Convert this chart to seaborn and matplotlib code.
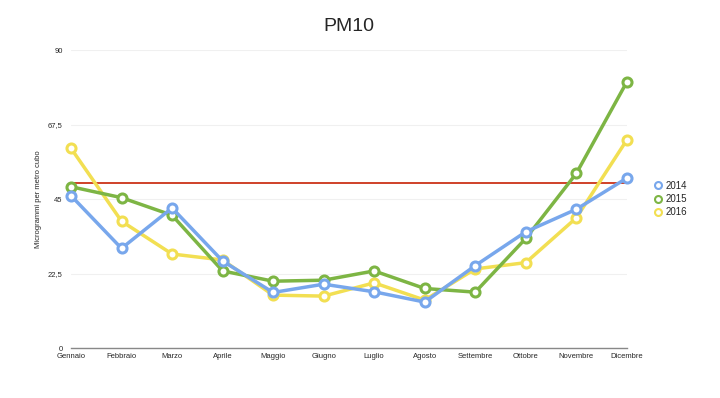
import matplotlib
matplotlib.use("Agg")
import matplotlib.pyplot as plt
from matplotlib.lines import Line2D
import seaborn as sns
import pandas as pd

months = ["Gennaio", "Febbraio", "Marzo", "Aprile", "Maggio", "Giugno",
          "Luglio", "Agosto", "Settembre", "Ottobre", "Novembre", "Dicembre"]
pm10_2014 = [46.1, 30.2, 42.4, 26.4, 16.9, 19.4, 17.1, 14.0, 25.0, 35.2, 42.0, 51.4]
pm10_2015 = [48.8, 45.5, 40.2, 23.4, 20.3, 20.6, 23.4, 18.1, 17.0, 33.2, 52.8, 80.4]
pm10_2016 = [60.4, 38.4, 28.5, 26.7, 16.1, 15.8, 19.8, 14.6, 24.0, 25.9, 39.4, 62.9]
years = ["2014", "2015", "2016"]
limit = 50
yticks = [0, 22.5, 45, 67.5, 90]
ytick_labels = ["0", "22,5", "45", "67,5", "90"]

colors = {"2014": "#78a7ec", "2015": "#7db544", "2016": "#f2df52"}

df = pd.DataFrame({
    "mese": months * 3,
    "valore": pm10_2014 + pm10_2015 + pm10_2016,
    "anno": [y for y in years for _ in months],
})

sns.set_style("white")
plt.rcParams["font.family"] = ["Liberation Sans", "DejaVu Sans"]

fig = plt.figure(figsize=(7.2, 3.98), dpi=100)
ax = fig.add_axes([0.0986, 0.1244, 0.772, 0.7496])

# draw 2016 first so 2014 stays on top, like the reference
for i, y in enumerate(["2016", "2015", "2014"]):
    sns.lineplot(data=df[df["anno"] == y], x="mese", y="valore",
                 color=colors[y], sort=False, ax=ax, linewidth=2.5,
                 linestyle="-", marker="o", markersize=6.5,
                 markerfacecolor="white", markeredgecolor=colors[y],
                 markeredgewidth=2.2, zorder=3 + i, clip_on=False)

ax.axhline(limit, color="#cc3318", lw=1.3, zorder=2)

ax.set_xlim(0, 11)
ax.set_ylim(0, 90)
ax.set_yticks(yticks)
ax.set_yticklabels(ytick_labels, fontsize=5.5)
ax.tick_params(axis="x", labelsize=5.5, length=0, pad=3)
ax.tick_params(axis="y", length=0, pad=6)
ax.yaxis.grid(True, color="#f0f0f0", lw=0.8)
for sp in ["top", "right", "left"]:
    ax.spines[sp].set_visible(False)
ax.spines["bottom"].set_color("#888888")
ax.spines["bottom"].set_linewidth(1)
ax.set_xlabel("")
ax.set_ylabel("Microgrammi per metro cubo", fontsize=5.5, labelpad=4)

ax.set_title("PM10", fontsize=14, pad=14)

handles = [Line2D([], [], ls="none", marker="o", markersize=5,
                  markerfacecolor="white", markeredgecolor=colors[y],
                  markeredgewidth=1.5, label=y) for y in years]
fig.legend(handles=handles, loc="center left", bbox_to_anchor=(0.895, 0.50),
           frameon=False, fontsize=7, handletextpad=0.3, labelspacing=0.35,
           handlelength=1)

fig.savefig("out.png", dpi=100)
